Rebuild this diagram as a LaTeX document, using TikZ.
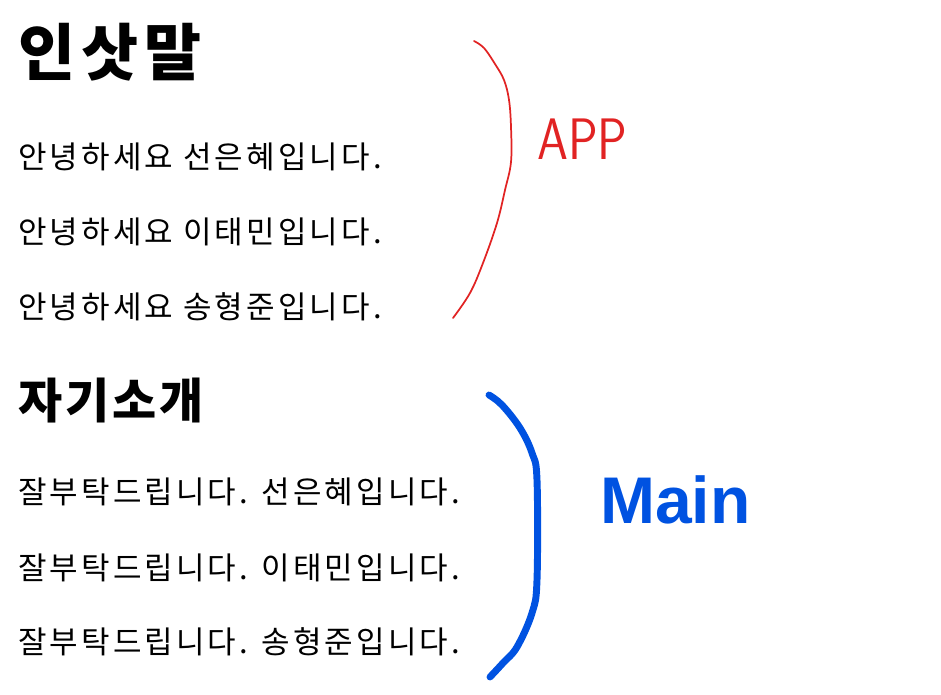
\documentclass[tikz,border=0pt]{standalone}
\usepackage{fontspec, graphicx}
\newfontfamily\kor{Noto Sans CJK KR}[LetterSpace=10]
\newfontfamily\korB{Noto Sans CJK KR}[LetterSpace=6]
\newfontfamily\hand{Liberation Sans}
\definecolor{penred}{RGB}{225,35,35}
\definecolor{penblue}{RGB}{0,82,225}
\tikzset{
    headA/.style={anchor=west, inner sep=0, font=\kor\bfseries\fontsize{46.5}{50}\selectfont},
    headB/.style={anchor=west, inner sep=0, font=\korB\bfseries\fontsize{36}{40}\selectfont},
    body/.style={anchor=west, inner sep=0, font=\kor\fontsize{23.25}{28}\selectfont}
}

\begin{document}
\begin{tikzpicture}[x=0.75pt, y=-0.75pt]
            \useasboundingbox (0,0) rectangle (941,695);

            % first block
            \node[headA] (greet) at (18,52) {인삿말};
            \node[body] (greetA) at (18,157) {안녕하세요 선은혜입니다.};
            \node[body] (greetB) at (18,232) {안녕하세요 이태민입니다.};
            \node[body] (greetC) at (18,307) {안녕하세요 송형준입니다.};

            % second block
            \node[headB] (intro) at (18,401) {자기소개};
            \node[body] (introA) at (18,492) {잘부탁드립니다. 선은혜입니다.};
            \node[body] (introB) at (18,568) {잘부탁드립니다. 이태민입니다.};
            \node[body] (introC) at (18,642) {잘부탁드립니다. 송형준입니다.};

            % hand drawn brackets
            \draw[penred, line width=1.3pt, line cap=round] plot[smooth, tension=0.6] coordinates
                {(474,41) (484,48) (495,64) (504,80) (509,100) (511,127) (511,162) (505,190) (497,223) (483,263) (470,293) (453,318)};
                \node[anchor=base west, inner sep=0, text=penred, font=\sffamily\fontsize{33.75}{36}\selectfont] (app) at (537,160) {\scalebox{1.1}[1.3]{APP}};

            \draw[penblue, line width=5.2pt, line cap=round] plot[smooth, tension=0.6] coordinates
                {(489,395) (502,405) (520,428) (532,453) (537,480) (537,580) (532,613) (517,647) (503,663) (490,677)};
                \node[anchor=base west, inner sep=0, text=penblue, font=\hand\bfseries\fontsize{49.5}{52}\selectfont] (main) at (600,523) {Main};
      \end{tikzpicture}
\end{document}
